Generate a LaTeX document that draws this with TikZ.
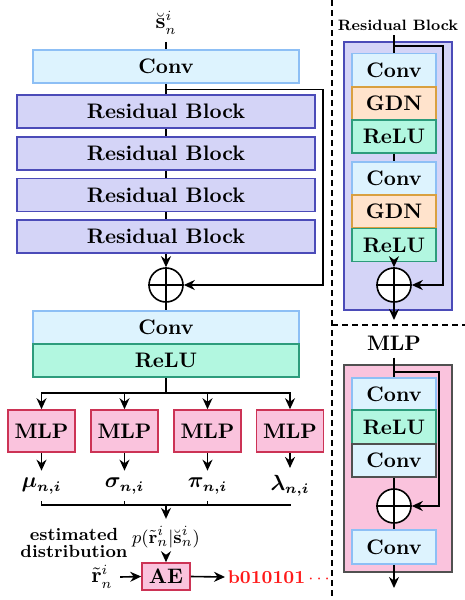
\documentclass[tikz,border=0pt]{standalone}
\usetikzlibrary{arrows.meta}
\usepackage{amsmath,bm}
\definecolor{convF}{HTML}{DDF3FE}
\definecolor{convD}{HTML}{8DBFF5}
\definecolor{rbF}{HTML}{D4D4F7}
\definecolor{rbD}{HTML}{4B4BB8}
\definecolor{reluF}{HTML}{B2F7E0}
\definecolor{reluD}{HTML}{2D9C7C}
\definecolor{gdnF}{HTML}{FFE3CC}
\definecolor{gdnD}{HTML}{D9A040}
\definecolor{mlpF}{HTML}{FAC3DD}
\definecolor{mlpD}{HTML}{CC3355}
\definecolor{grayD}{HTML}{505050}
\definecolor{bitred}{HTML}{FF1A1A}
\begin{document}
\begin{tikzpicture}[x=0.5pt,y=-0.5pt,line width=0.8pt,
  font=\fontsize{10.5}{12}\selectfont,
  blk/.style={draw, line width=0.8pt, inner sep=0pt, minimum height=16.5pt, font=\fontsize{10.5}{12}\selectfont\bfseries},
  convb/.style={blk, fill=convF, draw=convD},
  rbb/.style={blk, fill=rbF, draw=rbD, minimum width=149pt},
  relub/.style={blk, fill=reluF, draw=reluD},
  gdnb/.style={blk, fill=gdnF, draw=gdnD},
  mlpb/.style={blk, fill=mlpF, draw=mlpD, minimum width=33.5pt, minimum height=21pt},
  addc/.style={circle, draw, fill=white, line width=0.8pt, minimum size=17pt, inner sep=0pt},
  arr/.style={-{Stealth[length=5.5pt,width=5pt]}},
  sep/.style={dashed, line width=0.8pt, dash pattern=on 3pt off 2pt}]
\useasboundingbox (0,0) rectangle (465,600);

% ---------- main column ----------
\node (sin) at (166,23) {$\breve{\mathbf{s}}_n^i$};
\node[convb, minimum width=133pt] (c1) at (166,66.5) {Conv};
\node[rbb] (rb1) at (166,111.5) {Residual Block};
\node[rbb] (rb2) at (166,153.5) {Residual Block};
\node[rbb] (rb3) at (166,195) {Residual Block};
\node[rbb] (rb4) at (166,236.5) {Residual Block};
\node[addc] (add1) at (166,285) {};
\draw (add1.north) -- (add1.south) (add1.west) -- (add1.east);
\node[convb, minimum width=133pt] (c2) at (166,327.5) {Conv};
\node[relub, minimum width=133pt] (r2) at (166,360.5) {ReLU};

\draw (sin) -- (c1.north);
\draw (c1.south) -- (rb1.north);
\draw (rb1.south) -- (rb2.north);
\draw (rb2.south) -- (rb3.north);
\draw (rb3.south) -- (rb4.north);
\draw[arr] (rb4.south) -- (add1.north);
\draw (add1.south) -- (c2.north);
\coordinate (sk0) at (166,89.5);
\coordinate (sk1) at (323,89.5);
\coordinate (sk2) at (323,285);
\draw[arr] (sk0) -- (sk1) -- (sk2) -- (add1.east);

\node[mlpb] (m1) at (41.5,431) {MLP};
\node[mlpb] (m2) at (124.5,431) {MLP};
\node[mlpb] (m3) at (207.5,431) {MLP};
\node[mlpb] (m4) at (290,431) {MLP};
\coordinate (bj) at (166,393);
\draw (r2.south) -- (bj);
\draw[arr] (bj) -| (m1.north);
\draw[arr] (bj) -| (m2.north);
\draw[arr] (bj) -| (m3.north);
\draw[arr] (bj) -| (m4.north);

\node (mu) at (41.5,486) {$\boldsymbol{\mu_{n,i}}$};
\node (sg) at (124.5,486) {$\boldsymbol{\sigma_{n,i}}$};
\node (pi) at (207.5,486) {$\boldsymbol{\pi_{n,i}}$};
\node (la) at (290,486) {$\boldsymbol{\lambda_{n,i}}$};
\draw[arr] (m1.south) -- (mu.north);
\draw[arr] (m2.south) -- (sg.north);
\draw[arr] (m3.south) -- (pi.north);
\draw[arr] (m4.south) -- (la.north);
\coordinate (jn) at (166,505);
\draw (mu.south) |- (jn);
\draw (la.south) |- (jn);
\draw (sg.south) -- (sg.south|-jn);
\draw (pi.south) -- (pi.south|-jn);

\node[font=\fontsize{9.5}{11}\selectfont] (pl) at (166,537) {$p(\tilde{\mathbf{r}}_n^i|\breve{\mathbf{s}}_n^i)$};
\draw[arr] (jn) -- (pl.north);
\node[align=center, font=\fontsize{8.8}{8.2}\selectfont\bfseries] (ed) at (74,543) {estimated\\distribution};
\node[blk, fill=mlpF, draw=mlpD, minimum width=24pt, minimum height=13.5pt] (ae) at (166,576.5) {AE};
\draw[arr] (pl.south) -- (ae.north);
\node (rt) at (102,577) {$\tilde{\mathbf{r}}_n^i$};
\draw[arr] (rt.east) -- (ae.west);
\node[anchor=west, text=bitred, font=\fontsize{9.2}{10}\selectfont\bfseries, inner sep=1pt] (bits) at (225,577) {b010101$\,\cdots$};
\draw[arr] (ae.east) -- (bits.west);

% ---------- separators ----------
\coordinate (sv1) at (332,0);
\coordinate (sv2) at (332,600);
\coordinate (sh1) at (332,325);
\coordinate (sh2) at (465,325);
\draw[sep] (sv1) -- (sv2);
\draw[sep] (sh1) -- (sh2);

% ---------- residual block detail ----------
\node[font=\fontsize{7.5}{8}\selectfont\bfseries] (rbt) at (398,25) {Residual Block};
\node[draw=rbD, fill=rbF, line width=0.8pt, minimum width=54pt, minimum height=134pt, inner sep=0pt] (rbo) at (398,176) {};
\node[convb, minimum width=42pt] (d1) at (394,70) {Conv};
\node[gdnb, minimum width=42pt] (d2) at (394,103.5) {GDN};
\node[relub, minimum width=42pt] (d3) at (394,136.5) {ReLU};
\node[convb, minimum width=42pt] (d4) at (394,178.5) {Conv};
\node[gdnb, minimum width=42pt] (d5) at (394,211.5) {GDN};
\node[relub, minimum width=42pt] (d6) at (394,245) {ReLU};
\node[addc] (add2) at (394,285) {};
\draw (add2.north) -- (add2.south) (add2.west) -- (add2.east);
\coordinate (rin) at (394,35);
\draw (rin) -- (d1.north);
\draw (d3.south) -- (d4.north);
\draw[arr] (d6.south) -- (add2.north);
\coordinate (rs0) at (394,46);
\coordinate (rs1) at (443,46);
\coordinate (rs2) at (443,285);
\draw[arr] (rs0) -- (rs1) -- (rs2) -- (add2.east);
\coordinate (rout) at (394,320);
\draw[arr] (add2.south) -- (rout);

% ---------- MLP detail ----------
\node[font=\fontsize{10.5}{12}\selectfont\bfseries] (mt) at (394,343) {MLP};
\node[draw=grayD, fill=mlpF, line width=0.8pt, minimum width=54pt, minimum height=103.5pt, inner sep=0pt] (mo) at (398,468.5) {};
\node[convb, minimum width=42pt, minimum height=16pt] (e1) at (394,394) {Conv};
\node[relub, minimum width=42pt, minimum height=17pt] (e2) at (394,427) {ReLU};
\node[blk, fill=convF, draw=grayD, minimum width=42pt] (e3) at (394,460.5) {Conv};
\node[addc] (add3) at (394,506) {};
\draw (add3.north) -- (add3.south) (add3.west) -- (add3.east);
\node[convb, minimum width=42pt, minimum height=17pt] (e4) at (394,547) {Conv};
\draw (mt.south) -- (e1.north);
\draw (e3.south) -- (add3.north);
\draw (add3.south) -- (e4.north);
\coordinate (ms0) at (394,372);
\coordinate (ms1) at (439,372);
\coordinate (ms2) at (439,506);
\draw[arr] (ms0) -- (ms1) -- (ms2) -- (add3.east);
\coordinate (mout) at (394,588);
\draw[arr] (e4.south) -- (mout);
\end{tikzpicture}
\end{document}
